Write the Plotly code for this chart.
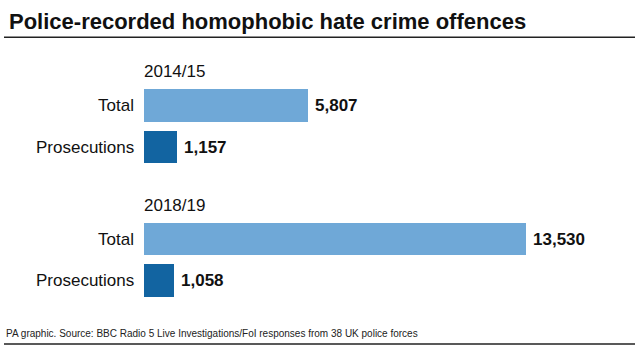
import plotly.graph_objects as go

# Data
periods = ["2014/15", "2018/19"]
measures = ["Total", "Prosecutions"]
totals = [5807, 13530]
prosecutions = [1157, 1058]

title_text = "Police-recorded homophobic hate crime offences"
source_text = ("PA graphic. Source: BBC Radio 5 Live Investigations/FoI responses "
               "from 38 UK police forces")

LIGHT = "#6fa8d7"
DARK = "#1264a1"
FONT = "Liberation Sans, Arial, sans-serif"

# Vertical layout (axis units equal screen pixels from the top)
FIRST_ROW = 105.5
GROUP_STEP = 133.5
ROW_GAP = 41.5
HEADER_OFFSET = -34
BAR_W = 32.5

fig = go.Figure()
annotations = []

for g, period in enumerate(periods):
    base = FIRST_ROW + g * GROUP_STEP
    values = [totals[g], prosecutions[g]]
    ys = [base, base + ROW_GAP]
    fig.add_trace(go.Bar(
        x=values, y=ys, orientation="h", width=BAR_W,
        marker=dict(color=[LIGHT, DARK], line=dict(width=0)),
        hoverinfo="skip", showlegend=False,
    ))
    # period header above the group
    annotations.append(dict(
        x=0, y=base + HEADER_OFFSET, xref="x", yref="y",
        text=period, showarrow=False, xanchor="left", yanchor="middle",
        xshift=-2, font=dict(family=FONT, size=17, color="#111"),
    ))
    for m, v, y in zip(measures, values, ys):
        annotations.append(dict(
            x=0, y=y, xref="x", yref="y", text=m, showarrow=False,
            xanchor="right", yanchor="middle", xshift=-8,
            font=dict(family=FONT, size=17, color="#111"),
        ))
        annotations.append(dict(
            x=v, y=y, xref="x", yref="y", text=f"<b>{v:,}</b>",
            showarrow=False, xanchor="left", yanchor="middle", xshift=5,
            font=dict(family=FONT, size=17, color="#111"),
        ))

# Title and source (x given in page pixels, converted to the axis domain)
PLOT_LEFT = 144
PLOT_WIDTH = 496


def page_x(px):
    return (px - PLOT_LEFT) / PLOT_WIDTH


annotations.append(dict(
    x=page_x(7), y=21, xref="x domain", yref="y", text=f"<b>{title_text}</b>",
    showarrow=False, xanchor="left", yanchor="middle",
    font=dict(family=FONT, size=22, color="#111"),
))
annotations.append(dict(
    x=page_x(4), y=333, xref="x domain", yref="y", text=source_text,
    showarrow=False, xanchor="left", yanchor="middle",
    font=dict(family=FONT, size=10, color="#222"),
))

shapes = [
    dict(type="line", xref="x domain", yref="y",
         x0=page_x(4), x1=page_x(635), y0=37.3, y1=37.3,
         line=dict(color="#222", width=1.6)),
    dict(type="line", xref="x domain", yref="y",
         x0=page_x(4), x1=page_x(635), y0=344, y1=344,
         line=dict(color="#222", width=1.6)),
]

fig.update_layout(
    width=640, height=347,
    margin=dict(l=PLOT_LEFT, r=0, t=0, b=0),
    paper_bgcolor="white", plot_bgcolor="white",
    bargap=0,
    xaxis=dict(range=[0, 13530 * PLOT_WIDTH / 382.4], visible=False, fixedrange=True),
    yaxis=dict(range=[347, 0], visible=False, fixedrange=True),
    annotations=annotations,
    shapes=shapes,
)

fig.write_html("out.html")
